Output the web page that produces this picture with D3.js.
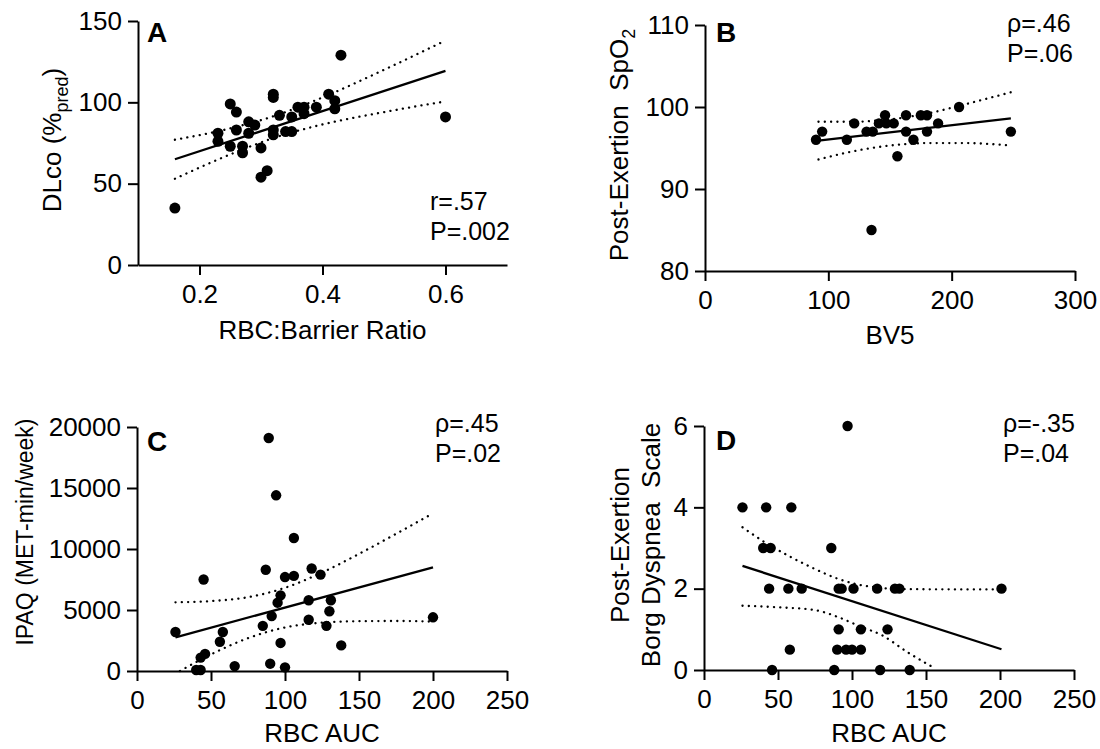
<!DOCTYPE html>
<html lang="en">
<head>
<meta charset="utf-8">
<script src="https://d3js.org/d3.v7.min.js"></script>
<title>Correlation panels</title>
<style>
  body { margin: 0; background: #fff; }
  svg { display: block; font-family: "Liberation Sans", Arial, sans-serif; }
</style>
</head>
<body>
<div id="chart"></div>
<script>
// ---- panel A: DLco vs RBC:Barrier ratio
const aRatio = [0.16,0.43,0.60,0.23,0.23,0.25,0.26,0.26,0.25,0.27,0.27,0.28,0.29,0.28,0.30,0.30,0.31,0.32,0.32,0.32,0.32,0.33,0.34,0.35,0.35,0.36,0.37,0.37,0.39,0.41,0.42,0.42];
const aDlco  = [35,129,91,81,76,99,94,83,73,73,69,88,86,81,72,54,58,105,103,83,80,92,82,82,91,97,97,93,97,105,101,96];
const aFitX = [0.16, 0.60], aFitY = [65, 119.3];
const aBandX = [0.16,0.25,0.32,0.40,0.50,0.60];
const aUpper = [77,84,91.4,103,120,138];
const aLower = [53,68,78,86.4,94,100.6];
const aTicksX = [0.2,0.4,0.6], aTicksY = [0,50,100,150];

// ---- panel B: post-exertion SpO2 vs BV5
const bBv5  = [90,95,115,121,131,136,135,141,146,147,153,156,163,163,169,175,180,180,189,206,248];
const bSpo2 = [96,97,96,98,97,97,85,98,99,98,98,94,99,97,96,99,99,97,98,100,97];
const bFitX = [92, 248], bFitY = [95.9, 98.6];
const bBandX = [92,120,150,180,210,248];
const bUpper = [98.2,98.2,98.5,99.2,100.3,101.8];
const bLower = [93.6,94.6,95.3,95.6,95.6,95.3];
const bTicksX = [0,100,200,300], bTicksY = [80,90,100,110];

// ---- panel C: IPAQ vs RBC AUC
const cAuc  = [89,94,106,87,45,100,106,118,124,97,95,116,131,130,91,116,128,85,26,58,56,97,138,200,46,43,66,90,100,40,43];
const cIpaq = [19100,14400,10900,8300,7500,7700,7800,8400,7900,6200,5600,5800,5800,4900,4500,4200,3700,3700,3200,3200,2400,2300,2100,4400,1400,1100,400,600,300,80,80];
const cFitX = [26, 200], cFitY = [2760, 8500];
const cUpperX = [26,50,75,100,125,150,175,200];
const cUpper  = [5630,5730,6050,6820,8070,9600,11240,12930];
const cLowerX = [29,50,75,100,125,150,175,200];
const cLower  = [0,1360,2690,3570,3960,4080,4100,4050];
const cTicksX = [0,50,100,150,200,250], cTicksY = [0,5000,10000,15000,20000];

// ---- panel D: Borg dyspnea vs RBC AUC
const dAuc  = [97,26,42,59,40,45,86,44,57,66,91,93,101,117,129,132,201,91,106,124,58,90,96,100,106,46,88,119,139];
const dBorg = [6,4,4,4,3,3,3,2,2,2,2,2,2,2,2,2,2,1,1,1,0.5,0.5,0.5,0.5,0.5,0,0,0,0];
const dFitX = [26, 201], dFitY = [2.56, 0.51];
const dUpperX = [26,42,58,74,90,103,117,130,201];
const dUpper  = [3.51,3.12,2.79,2.5,2.25,2.11,2.03,1.99,1.98];
const dLowerX = [26,51,74,90,105,121,137,156];
const dLower  = [1.58,1.54,1.48,1.31,1.08,0.84,0.45,0.04];
const dTicksX = [0,50,100,150,200,250], dTicksY = [0,2,4,6];

const W = 1100, H = 749;
const svg = d3.select("#chart").append("svg").attr("width", W).attr("height", H);

function zip(xs, ys) { return xs.map((x, i) => [x, ys[i]]); }
const plain = d => String(d);

function panel(p) {
  const x = d3.scaleLinear().domain(p.xDomain).range(p.xRange);
  const y = d3.scaleLinear().domain(p.yDomain).range(p.yRange);
  const g = svg.append("g");

  // axes
  const xAxis = d3.axisBottom(x).tickValues(p.xTicks).tickFormat(plain)
    .tickSize(10).tickSizeOuter(0).tickPadding(10);
  const yAxis = d3.axisLeft(y).tickValues(p.yTicks).tickFormat(plain)
    .tickSize(10).tickSizeOuter(0).tickPadding(6);
  const gx = g.append("g").attr("transform", "translate(0," + p.yRange[0] + ")").call(xAxis);
  const gy = g.append("g").attr("transform", "translate(" + p.xRange[0] + ",0)").call(yAxis);
  [gx, gy].forEach(a => {
    a.attr("font-family", null).attr("font-size", null);
    a.selectAll("path, line").attr("stroke", "#000").attr("stroke-width", 2);
    a.selectAll("text").attr("fill", "#000").style("font-size", "26px");
  });

  // CI bands (dotted)
  const band = d3.line().x(d => x(d[0])).y(d => y(d[1])).curve(d3.curveMonotoneX);
  [p.upper, p.lower].forEach(b => {
    g.append("path").attr("d", band(b)).attr("fill", "none").attr("stroke", "#000")
      .attr("stroke-width", 2.3).attr("stroke-linecap", "round").attr("stroke-dasharray", "0.1 6.2");
  });
  // fit line
  g.append("path").attr("d", d3.line().x(d => x(d[0])).y(d => y(d[1]))(p.fit))
    .attr("fill", "none").attr("stroke", "#000").attr("stroke-width", 2.3);

  // points
  g.selectAll("circle.pt").data(p.points).join("circle").attr("class", "pt")
    .attr("cx", d => x(d[0])).attr("cy", d => y(d[1])).attr("r", p.r).attr("fill", "#000");

  // panel letter
  g.append("text").attr("x", p.letterPos[0]).attr("y", p.letterPos[1])
    .style("font-size", "28px").style("font-weight", "bold").text(p.letter);

  // stats
  const st = g.append("text").style("font-size", "25px");
  p.stats.forEach((s, i) => st.append("tspan").attr("x", p.statPos[0]).attr("y", p.statPos[1] + i * 30).text(s));

  // x title
  g.append("text").attr("x", (p.xRange[0] + p.xRange[1]) / 2).attr("y", p.xTitleY)
    .attr("text-anchor", "middle").style("font-size", "26px").text(p.xTitle);

  // y title lines
  p.yTitle.forEach(line => {
    const t = g.append("text")
      .attr("transform", "translate(" + line.x + "," + line.y + ") rotate(-90)")
      .attr("text-anchor", "middle").style("font-size", (line.size || 26) + "px");
    t.append("tspan").text(line.main);
    if (line.sub) {
      t.append("tspan").attr("dy", 7).style("font-size", "18px").text(line.sub);
      if (line.after) t.append("tspan").attr("dy", -7).text(line.after);
    }
  });
}

panel({
  xDomain: [0.1, 0.7], xRange: [138, 507], yDomain: [0, 150], yRange: [265, 21],
  xTicks: aTicksX, yTicks: aTicksY, r: 5.5,
  points: zip(aRatio, aDlco), fit: zip(aFitX, aFitY),
  upper: zip(aBandX, aUpper), lower: zip(aBandX, aLower),
  letter: "A", letterPos: [147, 42],
  stats: ["r=.57", "P=.002"], statPos: [430, 210],
  xTitle: "RBC:Barrier Ratio", xTitleY: 339,
  yTitle: [{ x: 61, y: 140, main: "DLco (%", sub: "pred", after: ")" }]
});

panel({
  xDomain: [0, 300], xRange: [705, 1075], yDomain: [80, 110], yRange: [271, 25],
  xTicks: bTicksX, yTicks: bTicksY, r: 5.2,
  points: zip(bBv5, bSpo2), fit: zip(bFitX, bFitY),
  upper: zip(bBandX, bUpper), lower: zip(bBandX, bLower),
  letter: "B", letterPos: [716, 42],
  stats: ["ρ=.46", "P=.06"], statPos: [1007, 32],
  xTitle: "BV5", xTitleY: 344,
  yTitle: [{ x: 628, y: 145, main: "Post-Exertion\u00a0\u00a0SpO", sub: "2" }]
});

panel({
  xDomain: [0, 250], xRange: [137, 507], yDomain: [0, 20000], yRange: [671, 427],
  xTicks: cTicksX, yTicks: cTicksY, r: 5.2,
  points: zip(cAuc, cIpaq), fit: zip(cFitX, cFitY),
  upper: zip(cUpperX, cUpper), lower: zip(cLowerX, cLower),
  letter: "C", letterPos: [147, 451],
  stats: ["ρ=.45", "P=.02"], statPos: [435, 432],
  xTitle: "RBC AUC", xTitleY: 742,
  yTitle: [{ x: 33, y: 532, size: 23, main: "IPAQ (MET-min/week)" }]
});

panel({
  xDomain: [0, 250], xRange: [704, 1074], yDomain: [0, 6], yRange: [670, 426],
  xTicks: dTicksX, yTicks: dTicksY, r: 5.2,
  points: zip(dAuc, dBorg), fit: zip(dFitX, dFitY),
  upper: zip(dUpperX, dUpper), lower: zip(dLowerX, dLower),
  letter: "D", letterPos: [716, 450],
  stats: ["ρ=-.35", "P=.04"], statPos: [1003, 432],
  xTitle: "RBC AUC", xTitleY: 742,
  yTitle: [
    { x: 629, y: 545, main: "Post-Exertion" },
    { x: 660, y: 545, main: "Borg Dyspnea\u00a0\u00a0Scale" }
  ]
});
</script>
</body>
</html>
